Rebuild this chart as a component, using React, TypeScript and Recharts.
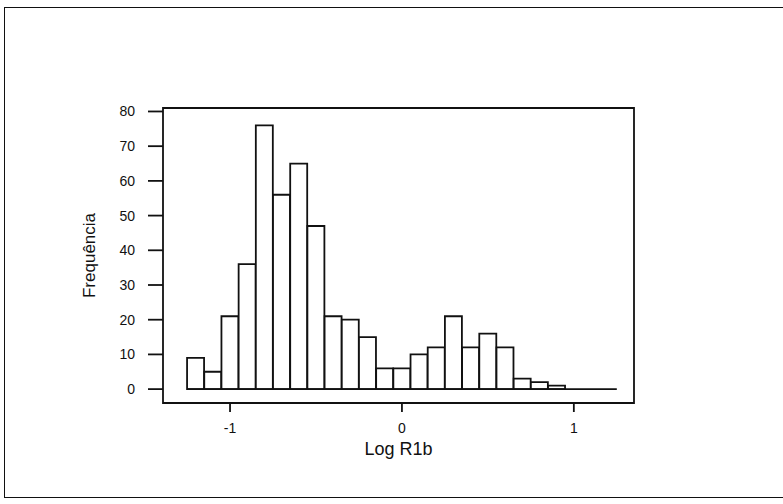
import React from "react";
import {
  Bar,
  ComposedChart,
  ReferenceArea,
  ReferenceLine,
  XAxis,
  YAxis
} from "recharts";

// histogram bins (centres, width 0.1) and counts
const binCenters = [
  -1.2, -1.1, -1.0, -0.9, -0.8, -0.7, -0.6, -0.5, -0.4, -0.3, -0.2, -0.1, 0.0,
  0.1, 0.2, 0.3, 0.4, 0.5, 0.6, 0.7, 0.8, 0.9, 1.0, 1.1, 1.2
];
const frequencies = [
  9, 5, 21, 36, 76, 56, 65, 47, 21, 20, 15, 6, 6,
  10, 12, 21, 12, 16, 12, 3, 2, 1, 0, 0, 0
];
const binWidth = 0.1;

const xTicks = [-1, 0, 1];
const yTicks = [0, 10, 20, 30, 40, 50, 60, 70, 80];
const xDomain: [number, number] = [-1.39, 1.35];
const yDomain: [number, number] = [-4, 81];

const data = binCenters.map((x, i) => ({ x, freq: frequencies[i] }));

const ink = "#111";
const font = "'Liberation Sans', Arial, sans-serif";

export default function App() {
  const first = binCenters[0] - binWidth / 2;
  const last = binCenters[binCenters.length - 1] + binWidth / 2;
  return (
    <div style={{ position: "fixed", inset: 0, overflow: "hidden", background: "#fff" }}>
      {/* outer page frame */}
      <div
        style={{
          position: "absolute",
          left: 4,
          top: 7,
          width: 820,
          height: 489,
          border: `1.6px solid ${ink}`
        }}
      />
      <div style={{ position: "absolute", left: 0, top: 0 }}>
        <ComposedChart
          width={783}
          height={504}
          data={data}
          margin={{ top: 108, right: 149, bottom: 41, left: 103 }}
          barCategoryGap={0}
          barGap={0}
        >
          <XAxis
            dataKey="x"
            type="number"
            domain={xDomain}
            ticks={xTicks}
            allowDataOverflow
            height={60}
            axisLine={false}
            tickSize={9}
            tickMargin={11}
            tickLine={{ stroke: ink, strokeWidth: 1.8 }}
            tick={{ fill: ink, fontSize: 14, fontFamily: font }}
            label={{
              value: "Log R1b",
              position: "insideBottom",
              offset: 8,
              fill: ink,
              fontSize: 18,
              fontFamily: font
            }}
          />
          <YAxis
            type="number"
            domain={yDomain}
            ticks={yTicks}
            allowDataOverflow
            width={60}
            axisLine={false}
            tickSize={15}
            tickMargin={13}
            tickLine={{ stroke: ink, strokeWidth: 1.8 }}
            tick={{ fill: ink, fontSize: 14, fontFamily: font }}
            label={{
              value: "Frequência",
              angle: -90,
              position: "insideLeft",
              offset: -14,
              textAnchor: "middle",
              fill: ink,
              fontSize: 17,
              fontFamily: font
            }}
          />
          <ReferenceArea
            x1={xDomain[0]}
            x2={xDomain[1]}
            y1={yDomain[0]}
            y2={yDomain[1]}
            fill="none"
            stroke={ink}
            strokeWidth={1.8}
          />
          <ReferenceLine
            segment={[
              { x: first, y: 0 },
              { x: last, y: 0 }
            ]}
            stroke={ink}
            strokeWidth={1.8}
          />
          <Bar
            dataKey="freq"
            fill="#fff"
            stroke={ink}
            strokeWidth={1.8}
            isAnimationActive={false}
          />
        </ComposedChart>
      </div>
    </div>
  );
}
